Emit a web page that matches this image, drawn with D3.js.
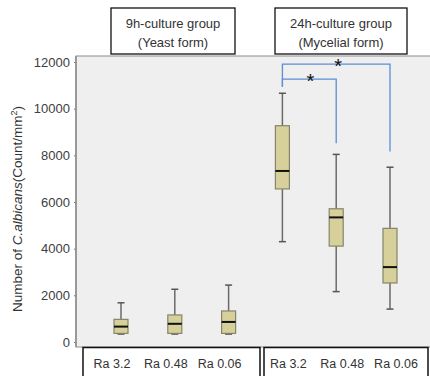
<!DOCTYPE html>
<html><head><meta charset="utf-8">
<script src="https://cdn.jsdelivr.net/npm/d3@7"></script>
<style>body{margin:0;background:#fff}svg{display:block}</style>
</head><body>
<script>
// ---- data ----
const categories = ["Ra 3.2", "Ra 0.48", "Ra 0.06", "Ra 3.2", "Ra 0.48", "Ra 0.06"];
const groups = ["9h", "9h", "9h", "24h", "24h", "24h"];
const groupTitles = [["9h-culture group", "(Yeast form)"], ["24h-culture group", "(Mycelial form)"]];
const whiskerLow  = [340, 340, 340, 4300, 2160, 1410];
const q1          = [370, 370, 370, 6560, 4110, 2530];
const median      = [660, 780, 860, 7330, 5340, 3210];
const q3          = [970, 1160, 1330, 9270, 5710, 4870];
const whiskerHigh = [1680, 2260, 2440, 10660, 8040, 7490];
const yTicks = [0, 2000, 4000, 6000, 8000, 10000, 12000];
// significance brackets: from box index, to box index, bar level, left end, right end
const sigFrom = [3, 3];
const sigTo = [4, 5];
const sigLevel = [11270, 11910];
const sigLeftEnd = [10940, 10940];
const sigRightEnd = [8520, 8160];

const W = 430, H = 376;
const svg = d3.select("body").append("svg").attr("width", W).attr("height", H);
const font = "'Liberation Sans', Arial, sans-serif";

const y = d3.scaleLinear().domain([0, 12000]).range([342, 62]);
const idx = d3.range(categories.length);
const x = d3.scaleBand().domain(idx).range([94.1, 416.9]).padding(0);
const cx = i => x(i) + x.bandwidth() / 2;

// plot background
svg.append("rect").attr("x", 76).attr("y", 56).attr("width", W - 76 + 2).attr("height", 347 - 56)
  .attr("fill", "#efefef").attr("stroke", "#8c8c8c").attr("stroke-width", 1);

// y axis
const yAxis = svg.append("g").attr("transform", "translate(76,0)")
  .call(d3.axisLeft(y).tickValues(yTicks).tickSize(2).tickPadding(4).tickFormat(d3.format("d")));
yAxis.select(".domain").remove();
yAxis.selectAll("line").attr("stroke", "#777");
yAxis.selectAll("text").attr("font-family", font).attr("font-size", 13).attr("fill", "#404040");
svg.append("line").attr("x1", 76).attr("x2", 76).attr("y1", 56).attr("y2", 347)
  .attr("stroke", "#8c8c8c").attr("stroke-width", 1.5);

// y axis label
const yl = svg.append("text").attr("transform", "translate(22,209) rotate(-90)")
  .attr("text-anchor", "middle").attr("font-family", font).attr("font-size", 13.5).attr("fill", "#333");
yl.append("tspan").text("Number of ");
yl.append("tspan").attr("font-style", "italic").text("C.albicans");
yl.append("tspan").text("(Count/mm");
yl.append("tspan").attr("font-size", 9).attr("dy", -5).text("2");
yl.append("tspan").attr("dy", 5).text(")");

// boxes
const bw = 14;
const g = svg.append("g");
idx.forEach(i => {
  const c = cx(i);
  // whiskers
  g.append("line").attr("x1", c).attr("x2", c).attr("y1", y(q3[i])).attr("y2", y(whiskerHigh[i]))
    .attr("stroke", "#6a6a6a").attr("stroke-width", 1.5);
  g.append("line").attr("x1", c).attr("x2", c).attr("y1", y(q1[i])).attr("y2", y(whiskerLow[i]))
    .attr("stroke", "#6a6a6a").attr("stroke-width", 1.5);
  [whiskerHigh[i], whiskerLow[i]].forEach(v => {
    g.append("line").attr("x1", c - 3.5).attr("x2", c + 3.5).attr("y1", y(v)).attr("y2", y(v))
      .attr("stroke", "#555").attr("stroke-width", 1.5);
  });
  g.append("rect").attr("x", c - bw / 2).attr("y", y(q3[i])).attr("width", bw)
    .attr("height", y(q1[i]) - y(q3[i])).attr("fill", "#d7d09a").attr("stroke", "#85856a").attr("stroke-width", 1.2);
  g.append("line").attr("x1", c - bw / 2).attr("x2", c + bw / 2).attr("y1", y(median[i])).attr("y2", y(median[i]))
    .attr("stroke", "#111").attr("stroke-width", 2);
});

// significance brackets
const blue = "#5b8ed6";
sigFrom.forEach((f, k) => {
  const x1 = cx(f), x2 = cx(sigTo[k]);
  svg.append("path")
    .attr("d", `M${x1},${y(sigLeftEnd[k])}V${y(sigLevel[k])}H${x2}V${y(sigRightEnd[k])}`)
    .attr("fill", "none").attr("stroke", blue).attr("stroke-width", 1.3);
  const mid = k === 0 ? (x1 + x2) / 2 + 1 : (x1 + x2) / 2 + 2;
  svg.append("text").attr("x", mid).attr("y", y(sigLevel[k]) + 9)
    .attr("text-anchor", "middle").attr("font-family", font).attr("font-size", 20).attr("fill", "#111").text("*");
});

// header boxes
const headerX = [[111, 235], [275, 407]];
groupTitles.forEach((t, j) => {
  const [a, b] = headerX[j];
  svg.append("rect").attr("x", a).attr("y", 8).attr("width", b - a).attr("height", 46)
    .attr("fill", "#fff").attr("stroke", "#111").attr("stroke-width", 1.3);
  t.forEach((line, li) => {
    svg.append("text").attr("x", (a + b) / 2).attr("y", 27.5 + li * 19)
      .attr("text-anchor", "middle").attr("font-family", font).attr("font-size", 13).attr("fill", "#333").text(line);
  });
});

// bottom category boxes
const footX = [[83, 260], [264, 428]];
const labelShift = { "9h": -9, "24h": 6 };
footX.forEach(([a, b]) => {
  svg.append("rect").attr("x", a).attr("y", 347.5).attr("width", b - a).attr("height", 40)
    .attr("fill", "#fff").attr("stroke", "#111").attr("stroke-width", 1.5);
});
idx.forEach(i => {
  svg.append("text").attr("x", cx(i) + labelShift[groups[i]]).attr("y", 368)
    .attr("text-anchor", "middle").attr("font-family", font).attr("font-size", 12.5).attr("fill", "#333")
    .text(categories[i]);
});
</script>
</body></html>
